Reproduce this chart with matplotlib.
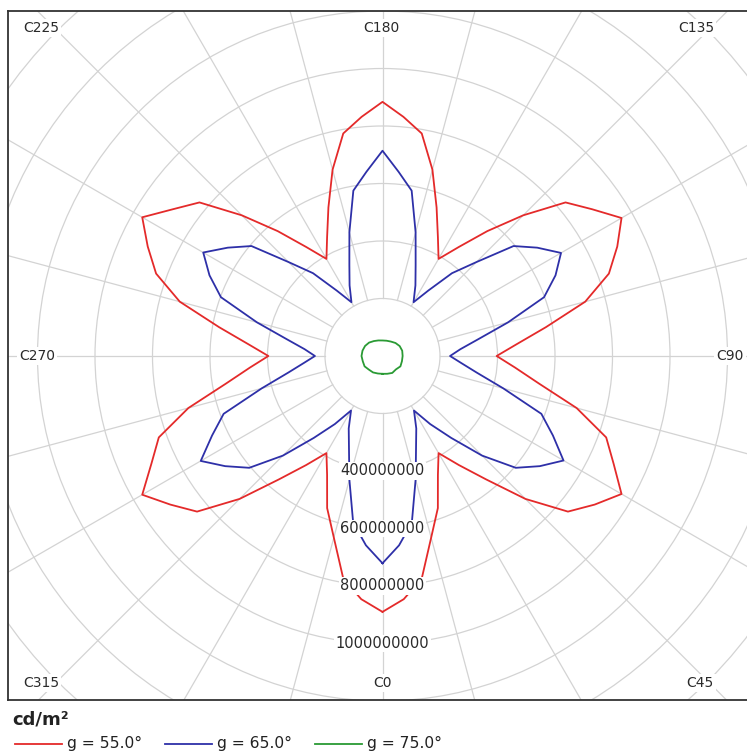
import numpy as np
import matplotlib
matplotlib.use("Agg")
import matplotlib.pyplot as plt
from matplotlib.patches import Circle
from matplotlib.lines import Line2D

# C-plane angles (deg) for the two big curves, every 5 degrees
c_angles = list(range(0, 360, 5))

# luminance in millions of cd/m2
g55 = [890, 849, 786, 654, 563, 456, 390, 463, 560, 703, 842, 901,
       960, 887, 828, 699, 553, 463, 397, 468, 577, 730, 838, 901,
       960, 890, 831, 692, 567, 463, 390, 456, 550, 671, 786, 835,
       884, 835, 786, 671, 550, 456, 390, 463, 567, 692, 831, 890,
       965, 901, 838, 730, 577, 468, 397, 463, 553, 699, 828, 887,
       965, 901, 842, 703, 560, 463, 390, 456, 563, 654, 786, 849]

g65 = [721, 661, 588, 445, 341, 278, 219, 289, 372, 490, 605, 668,
       727, 654, 588, 435, 333, 274, 235, 272, 339, 452, 598, 664,
       717, 657, 595, 462, 376, 278, 216, 271, 337, 445, 584, 643,
       714, 643, 584, 445, 337, 271, 216, 278, 376, 462, 595, 657,
       720, 664, 598, 452, 339, 272, 235, 274, 333, 435, 588, 654,
       730, 668, 605, 490, 372, 289, 219, 278, 341, 445, 588, 661]

# small green curve, every 15 degrees
c_angles_75 = list(range(0, 360, 15))
g75 = [62, 64, 68, 66, 72, 70, 70, 71, 69, 64, 58, 55,
       54, 56, 60, 66, 70, 72, 73, 71, 72, 67, 66, 63]

series = [("g = 55.0°", c_angles, g55, "#e42a2a"),
          ("g = 65.0°", c_angles, g65, "#2e30a8"),
          ("g = 75.0°", c_angles_75, g75, "#2a9a34")]

ring_values = [200, 400, 600, 800, 1000, 1200, 1400, 1600, 1800]
ring_labels = {400: "400000000", 600: "600000000",
               800: "800000000", 1000: "1000000000"}
c_labels = ["C0", "C45", "C90", "C135", "C180", "C225", "C270", "C315"]

W, H = 747, 753
fig = plt.figure(figsize=(W / 100, H / 100), dpi=100)

# pixel layout of the plot box (right edge is cut off by the image)
cx, cy = 382.5, 356
left, right, top, bottom = 8, 757, 11, 700
k = 57.5 / 200.0  # pixels per million

ax = fig.add_axes([left / W, (H - bottom) / H, (right - left) / W, (bottom - top) / H])
ax.set_xlim((left - cx) / k, (right - cx) / k)
ax.set_ylim((cy - bottom) / k, (cy - top) / k)
ax.set_xticks([])
ax.set_yticks([])
for s in ax.spines.values():
    s.set_color("#333333")
    s.set_linewidth(1.3)

grid_col = "#d3d3d3"
for rv in ring_values:
    ax.add_patch(Circle((0, 0), rv, fill=False, ec=grid_col, lw=0.9, zorder=1))
for a in range(0, 360, 15):
    t = np.radians(a)
    ax.plot([200 * np.sin(t), 2200 * np.sin(t)], [-200 * np.cos(t), -2200 * np.cos(t)],
            color=grid_col, lw=0.9, zorder=1)

for name, ang, vals, col in series:
    t = np.radians(np.array(ang + ang[:1]))
    v = np.array(vals + vals[:1], dtype=float)
    ax.plot(v * np.sin(t), -v * np.cos(t), color=col, lw=1.3, zorder=3)

txt_col = "#2a2a2a"
for rv, lab in ring_labels.items():
    ax.text(0, -rv, lab, ha="center", va="center", fontsize=10.5, color=txt_col, zorder=5,
            bbox=dict(boxstyle="square,pad=0.1", fc="white", ec="none"))

# C labels placed at the box edges / corners (pixel positions)
c_pos = {"C180": (381, 28), "C0": (382, 683), "C90": (730, 356), "C270": (37, 356),
         "C225": (41, 28), "C135": (696, 28), "C315": (41, 683), "C45": (700, 683)}
for lab in c_labels:
    px, py = c_pos[lab]
    ax.text((px - cx) / k, (cy - py) / k, lab, ha="center", va="center", fontsize=10,
            color=txt_col, zorder=5,
            bbox=dict(boxstyle="square,pad=0.15", fc="white", ec="none"))

# legend below the box
fig.text(12 / W, 1 - 720 / H, "cd/m²", fontsize=13, fontweight="bold", color="#222222",
         ha="left", va="center")
leg_x = [15, 165, 315]
for (name, ang, vals, col), x0 in zip(series, leg_x):
    fig.add_artist(Line2D([x0 / W, (x0 + 47) / W], [1 - 744 / H, 1 - 744 / H],
                          color=col, lw=1.3, transform=fig.transFigure))
    fig.text((x0 + 52) / W, 1 - 743 / H, name, fontsize=11.2, color="#222222",
             ha="left", va="center")

fig.savefig("out.png", dpi=100)
